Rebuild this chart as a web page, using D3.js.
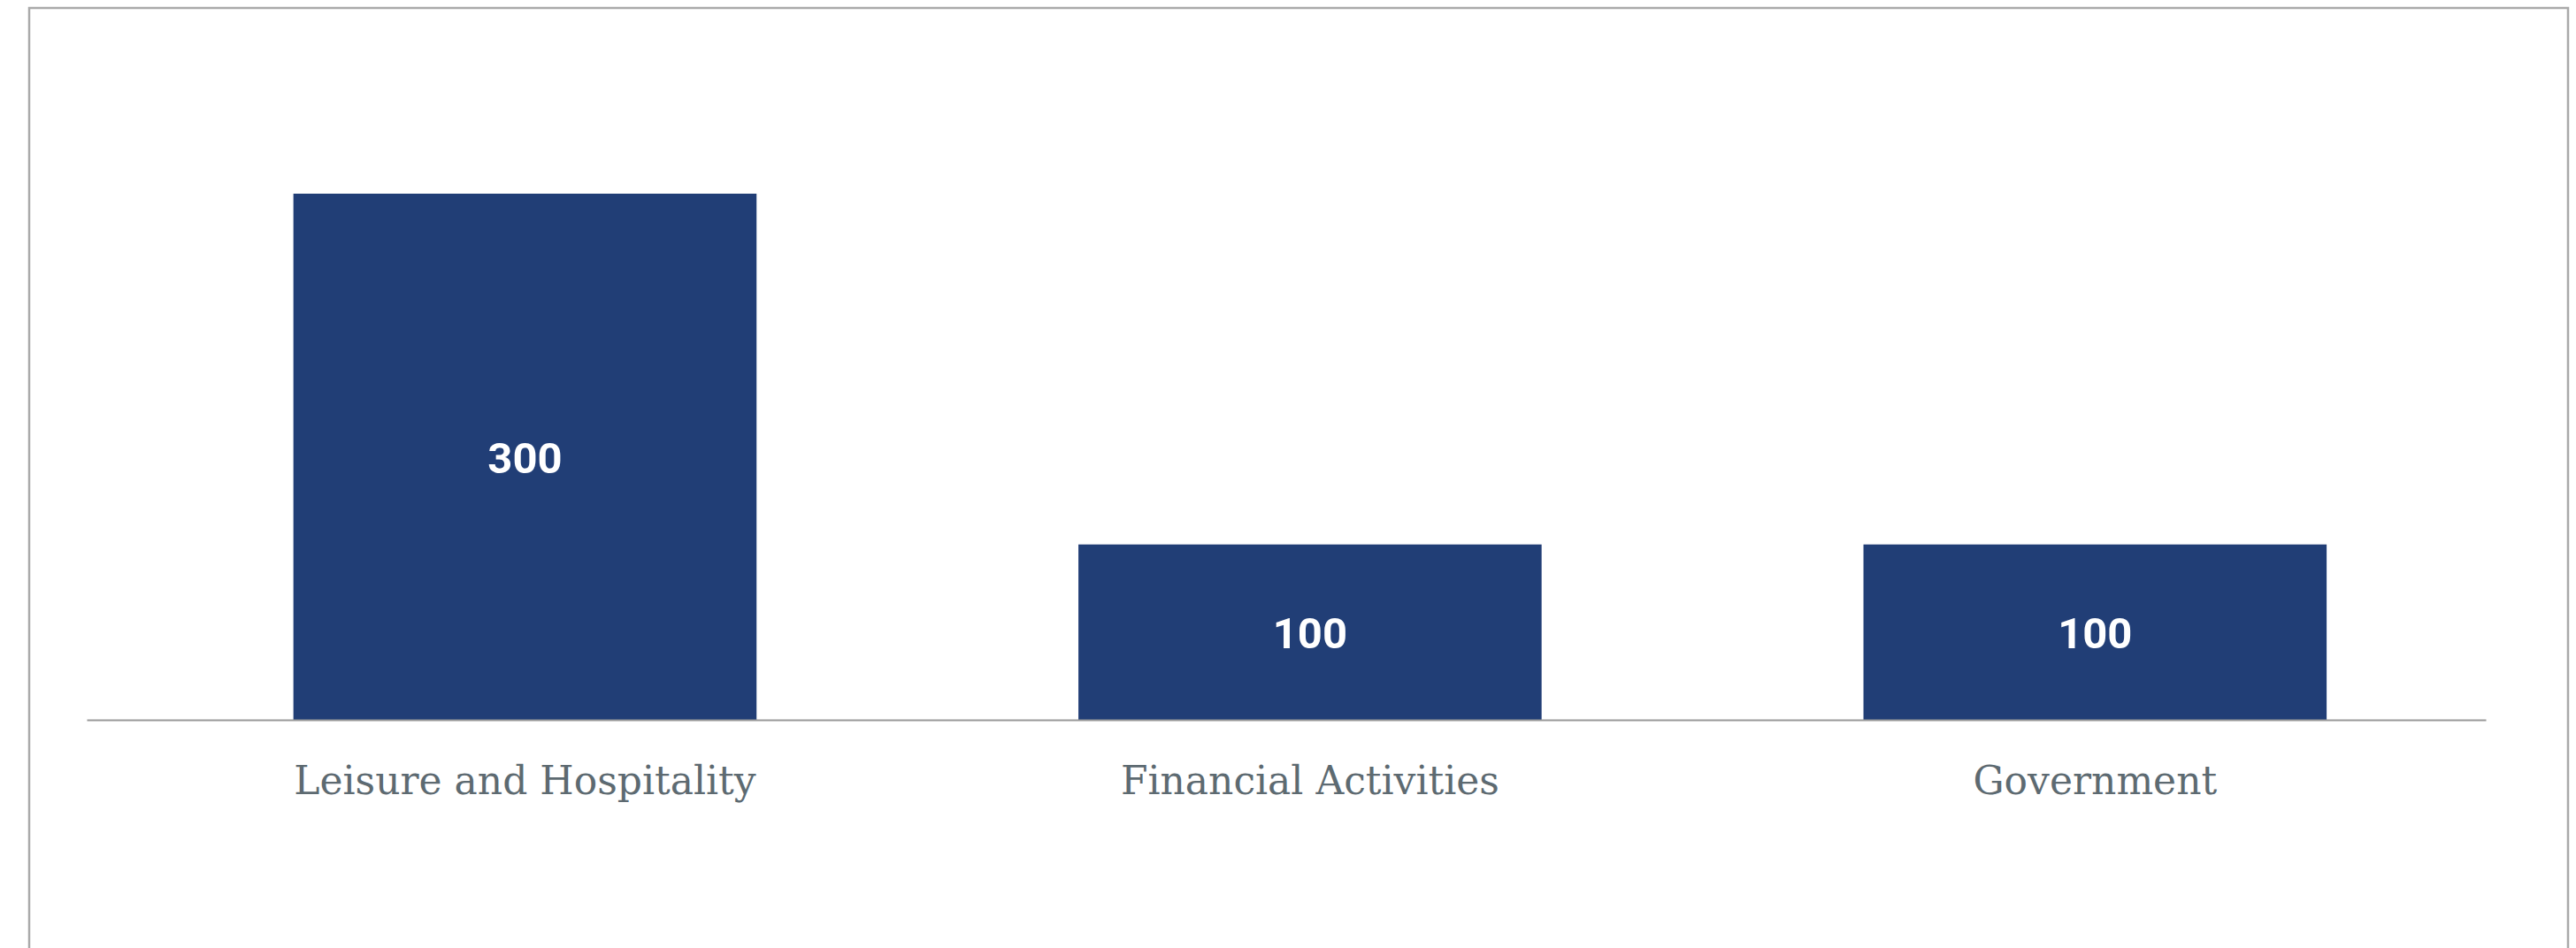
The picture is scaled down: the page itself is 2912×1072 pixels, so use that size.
<!DOCTYPE html>
<html>
<head>
<meta charset="utf-8">
<script src="https://cdn.jsdelivr.net/npm/d3@7"></script>
<style>
  body { margin: 0; background: #fff; }
  svg { display: block; }
</style>
</head>
<body>
<div id="chart"></div>
<script>
// data
var categories = ["Leisure and Hospitality", "Financial Activities", "Government"];
var values = [300, 100, 100];

var W = 2912, H = 1072;

var svg = d3.select("#chart")
  .append("svg")
    .attr("width", W)
    .attr("height", H);

// frame around the chart (open at bottom)
svg.append("path")
  .attr("d", "M33,1072 L33,9 L2903,9 L2903,1072")
  .attr("fill", "none")
  .attr("stroke", "#aaaaaa")
  .attr("stroke-width", 2.5);

// scales
var x = d3.scaleBand()
  .domain(categories)
  .range([98, 2810])
  .paddingInner(0.41)
  .paddingOuter(0.233)
  .align(0.565);

var y = d3.scaleLinear()
  .domain([0, 300])
  .range([814, 219]);

// bars
svg.selectAll("rect.bar")
  .data(values)
  .enter()
  .append("rect")
    .attr("class", "bar")
    .attr("x", function(d, i) { return x(categories[i]); })
    .attr("y", function(d) { return y(d); })
    .attr("width", x.bandwidth())
    .attr("height", function(d) { return y(0) - y(d); })
    .attr("fill", "#213e76");

// value labels in the middle of each bar
svg.selectAll("text.val")
  .data(values)
  .enter()
  .append("text")
    .attr("class", "val")
    .attr("x", function(d, i) { return x(categories[i]) + x.bandwidth() / 2; })
    .attr("y", function(d) { return (y(d) + y(0)) / 2 + 1; })
    .attr("dy", "0.35em")
    .attr("text-anchor", "middle")
    .attr("font-family", "Roboto, sans-serif")
    .attr("font-weight", "bold")
    .attr("font-size", 49)
    .attr("fill", "#ffffff")
    .text(function(d) { return d; });

// x axis
var xAxis = svg.append("g")
  .attr("transform", "translate(0," + y(0) + ")")
  .call(d3.axisBottom(x).tickSize(0).tickPadding(84));

xAxis.select(".domain")
  .attr("stroke", "#999999")
  .attr("stroke-width", 2);

xAxis.selectAll("text")
  .attr("font-family", "'DejaVu Serif', serif")
  .attr("font-size", 44)
  .attr("fill", "#5d6a71")
  .attr("dy", "0");
</script>
</body>
</html>
